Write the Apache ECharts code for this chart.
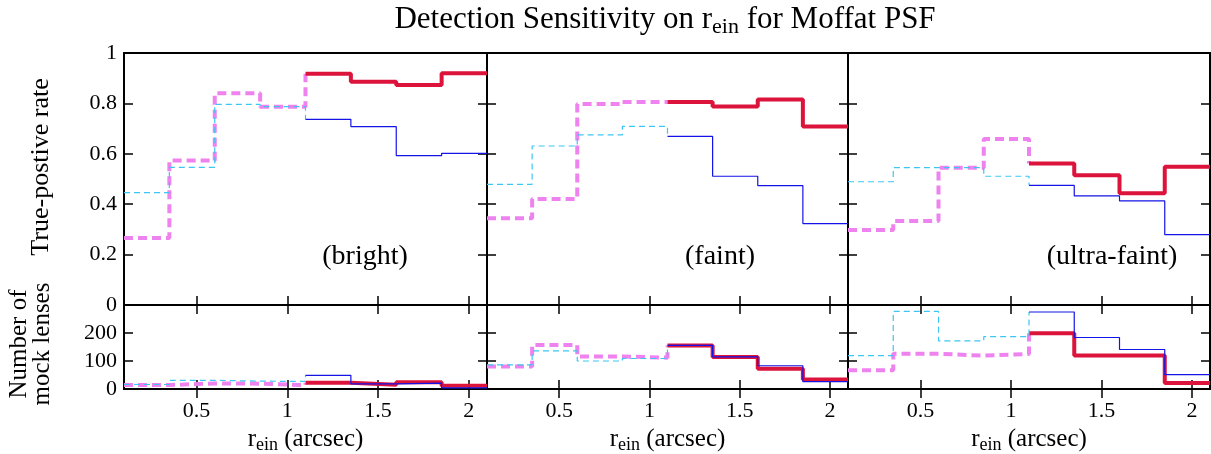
<!DOCTYPE html>
<html><head><meta charset="utf-8">
<script src="https://cdn.jsdelivr.net/npm/echarts@6/dist/echarts.min.js"></script>
<style>html,body{margin:0;padding:0;background:#fff}#c{width:1211px;height:454px}</style>
</head><body><div id="c"></div>
<script>
// ---- data ----
const binEdges = [0.1, 0.35, 0.6, 0.85, 1.1, 1.35, 1.6, 1.85, 2.1];
const xTickValues = [0.5, 1, 1.5, 2];
const panelLabels = ['(bright)', '(faint)', '(ultra-faint)'];

// True-positive rate: bins 1-4 (dashed series), bins 5-8 (solid series)
const brightRateCyan    = [0.446, 0.546, 0.796, 0.787];
const brightRateMagenta = [0.266, 0.573, 0.840, 0.787];
const brightRateBlue    = [0.737, 0.708, 0.593, 0.602];
const brightRateRed     = [0.918, 0.886, 0.873, 0.920];
const faintRateCyan     = [0.479, 0.631, 0.675, 0.709];
const faintRateMagenta  = [0.344, 0.421, 0.798, 0.806];
const faintRateBlue     = [0.669, 0.511, 0.474, 0.323];
const faintRateRed      = [0.806, 0.788, 0.815, 0.708];
const ultraRateCyan     = [0.489, 0.545, 0.545, 0.511];
const ultraRateMagenta  = [0.298, 0.333, 0.545, 0.659];
const ultraRateBlue     = [0.475, 0.433, 0.413, 0.279];
const ultraRateRed      = [0.562, 0.515, 0.443, 0.549];

// Number of mock lenses
const brightCountCyan    = [16, 31, 28, 27];
const brightCountMagenta = [14, 20, 19, 14];
const brightCountBlue    = [49, 18, 21, 4];
const brightCountRed     = [22, 15, 24, 12];
const faintCountCyan     = [86, 136, 100, 109];
const faintCountMagenta  = [80, 157, 116, 112];
const faintCountBlue     = [156, 115, 83, 26];
const faintCountRed      = [155, 114, 72, 34];
const ultraCountCyan     = [119, 277, 172, 187];
const ultraCountMagenta  = [67, 126, 119, 125];
const ultraCountBlue     = [275, 184, 141, 51];
const ultraCountRed      = [199, 120, 120, 21];

// ---- layout ----
const FONT = 'Liberation Serif';
const colLeft = [124, 487, 848];
const colWidth = [363, 361, 362];
const rowTop = [53, 305];
const rowHeight = [252, 84];

const panels = [
  {col:0,row:0,c:brightRateCyan,m:brightRateMagenta,b:brightRateBlue,r:brightRateRed},
  {col:1,row:0,c:faintRateCyan,m:faintRateMagenta,b:faintRateBlue,r:faintRateRed},
  {col:2,row:0,c:ultraRateCyan,m:ultraRateMagenta,b:ultraRateBlue,r:ultraRateRed},
  {col:0,row:1,c:brightCountCyan,m:brightCountMagenta,b:brightCountBlue,r:brightCountRed},
  {col:1,row:1,c:faintCountCyan,m:faintCountMagenta,b:faintCountBlue,r:faintCountRed},
  {col:2,row:1,c:ultraCountCyan,m:ultraCountMagenta,b:ultraCountBlue,r:ultraCountRed}
];

function steps(startIdx, vals, nextVal) {
  const pts = vals.map((v, i) => [binEdges[startIdx + i], v]);
  pts.push([binEdges[startIdx + vals.length], nextVal === undefined ? vals[vals.length - 1] : nextVal]);
  return pts;
}

const grids = [], xAxes = [], yAxes = [], series = [];
const tickStyle = {show: true, inside: true, length: 9, lineStyle: {color: '#000', width: 1.5}};
const labelStyle = {color: '#000', fontFamily: FONT, fontSize: 22};

panels.forEach((p, g) => {
  grids.push({left: colLeft[p.col], top: rowTop[p.row], width: colWidth[p.col], height: rowHeight[p.row],
    show: true, borderColor: '#000', borderWidth: 2, backgroundColor: 'transparent'});
});
// bottom x axes
panels.forEach((p, g) => {
  xAxes.push({type: 'value', gridIndex: g, min: 0.1, max: 2.1, position: 'bottom',
    axisLine: {show: false}, splitLine: {show: false},
    axisTick: Object.assign({customValues: xTickValues}, tickStyle),
    axisLabel: Object.assign({show: p.row === 1, customValues: xTickValues, margin: 11,
      formatter: v => String(v)}, labelStyle)});
});
// top mirror x axes
panels.forEach((p, g) => {
  xAxes.push({type: 'value', gridIndex: g, min: 0.1, max: 2.1, position: 'top',
    axisLine: {show: false}, splitLine: {show: false},
    axisTick: Object.assign({customValues: xTickValues}, tickStyle),
    axisLabel: {show: false}});
});
// left y axes
panels.forEach((p, g) => {
  const top = p.row === 0;
  yAxes.push({type: 'value', gridIndex: g, min: 0, max: top ? 1 : 300, interval: top ? 0.2 : 100,
    position: 'left', axisLine: {show: false}, splitLine: {show: false}, axisTick: tickStyle,
    axisLabel: Object.assign({show: p.col === 0, margin: 7, showMaxLabel: top,
      formatter: v => String(+(+v).toFixed(1))}, labelStyle)});
});
// right mirror y axes
panels.forEach((p, g) => {
  const top = p.row === 0;
  yAxes.push({type: 'value', gridIndex: g, min: 0, max: top ? 1 : 300, interval: top ? 0.2 : 100,
    position: 'right', axisLine: {show: false}, splitLine: {show: false}, axisTick: tickStyle,
    axisLabel: {show: false}});
});

panels.forEach((p, g) => {
  const base = {type: 'line', xAxisIndex: g, yAxisIndex: g, step: 'end', symbol: 'none',
    silent: true, animation: false, clip: true};
  series.push(Object.assign({}, base, {data: steps(0, p.m, p.r[0]), z: 2,
    lineStyle: {color: '#ee82ee', width: 4, type: [9, 5]}}));
  series.push(Object.assign({}, base, {data: steps(4, p.r), z: 2,
    lineStyle: {color: '#dc143c', width: 4}}));
  series.push(Object.assign({}, base, {data: steps(0, p.c, p.b[0]), z: 3,
    lineStyle: {color: '#3cc6f4', width: 1.2, type: [6, 4]}}));
  series.push(Object.assign({}, base, {data: steps(4, p.b), z: 3,
    lineStyle: {color: '#1414e6', width: 1.2}}));
});

const subRich = {
  a: {fontFamily: FONT, fontSize: 31, color: '#000', lineHeight: 36},
  s: {fontFamily: FONT, fontSize: 22, color: '#000', lineHeight: 18, verticalAlign: 'bottom'}
};
const xRich = {
  a: {fontFamily: FONT, fontSize: 25, color: '#000', lineHeight: 30},
  s: {fontFamily: FONT, fontSize: 18, color: '#000', lineHeight: 12, verticalAlign: 'bottom'}
};

const graphics = [
  {type: 'text', x: 665, y: 2, style: {
    text: '{a|Detection Sensitivity on r}{s|ein}{a| for Moffat PSF}', rich: subRich, align: 'center', verticalAlign: 'top'}},
  {type: 'text', x: 41, y: 167, rotation: Math.PI / 2, style: {
    text: 'True-postive rate', fontFamily: FONT, fontSize: 26, fill: '#000', align: 'center', verticalAlign: 'middle'}},
  {type: 'text', x: 31, y: 344, rotation: Math.PI / 2, style: {
    text: 'Number of\nmock lenses', fontFamily: FONT, fontSize: 25, lineHeight: 23, fill: '#000', align: 'center', verticalAlign: 'middle'}}
];
panelLabels.forEach((t, i) => {
  const cx = [365, 720, 1112][i];
  graphics.push({type: 'text', x: cx, y: 257, style: {text: t, fontFamily: FONT, fontSize: 28, fill: '#000',
    align: 'center', verticalAlign: 'middle'}});
});
[0, 1, 2].forEach(i => {
  graphics.push({type: 'text', x: colLeft[i] + colWidth[i] / 2, y: 424, style: {
    text: '{a|r}{s|ein}{a| (arcsec)}', rich: xRich, align: 'center', verticalAlign: 'top'}});
});

const chart = echarts.init(document.getElementById('c'), null, {renderer: 'canvas'});
chart.setOption({
  animation: false,
  backgroundColor: '#fff',
  grid: grids, xAxis: xAxes, yAxis: yAxes, series: series, graphic: graphics
});
</script></body></html>
